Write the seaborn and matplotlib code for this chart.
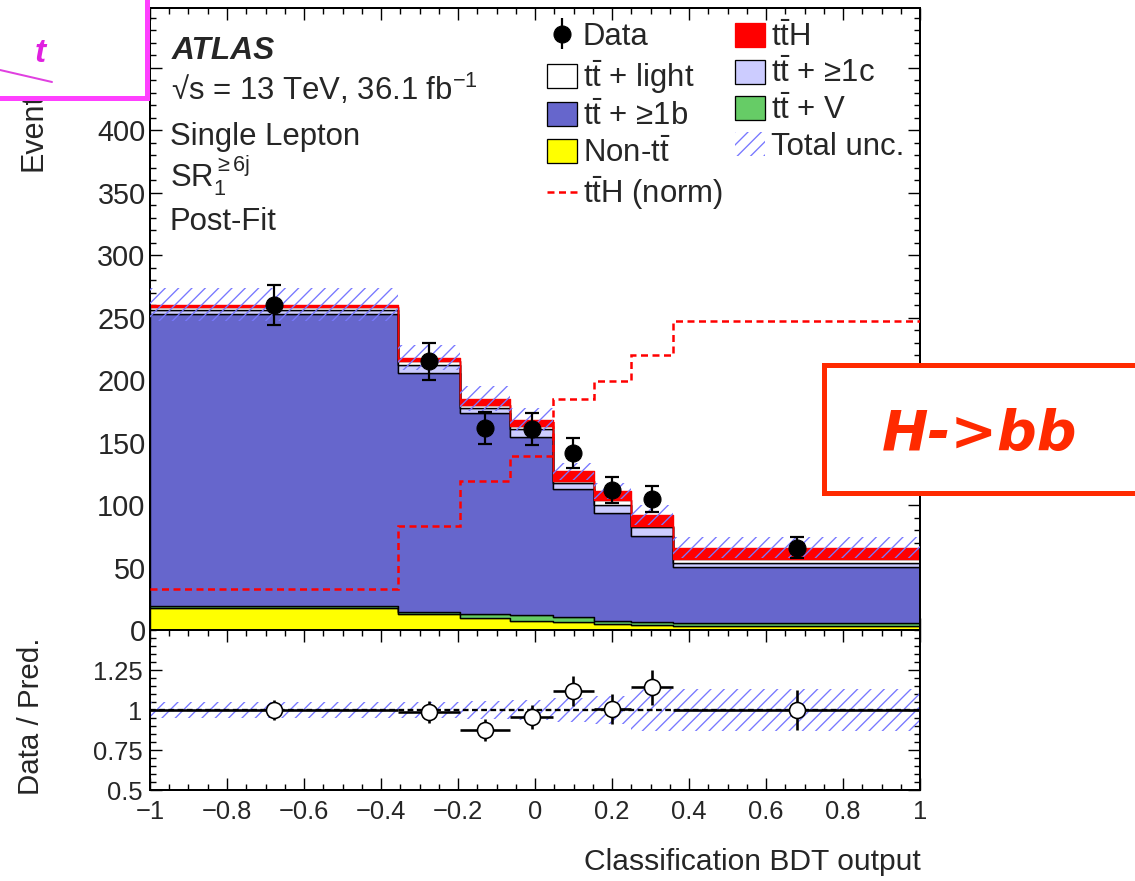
import numpy as np
import pandas as pd
import matplotlib
matplotlib.use("Agg")
import matplotlib.pyplot as plt
import seaborn as sns
from matplotlib.patches import Rectangle, Patch
from matplotlib.lines import Line2D
from matplotlib.ticker import MultipleLocator, FixedLocator, FixedFormatter

# ---------------- data ----------------
bin_edges = [-1.0, -0.357, -0.195, -0.064, 0.047, 0.152, 0.249, 0.359, 1.0]
non_tt   = [17.5, 12.5, 9.5, 7.5, 6.7, 4.5, 4.0, 3.2]
tt_v     = [1.8, 2.2, 3.0, 4.2, 3.4, 3.0, 2.7, 2.1]
tt_1b    = [233.7, 191.3, 161.5, 142.7, 102.6, 86.5, 68.6, 44.9]
tt_1c    = [3.5, 5.8, 3.6, 6.6, 5.3, 6.0, 7.0, 3.8]
tt_light = [2.0, 3.2, 2.4, 2.0, 1.0, 4.2, 1.0, 2.6]
tth      = [2.0, 3.0, 5.0, 5.3, 8.0, 7.2, 8.7, 9.4]
data_counts = [260, 215, 162, 161, 142, 112, 105, 66]
tth_norm = [33, 83, 119, 139, 185, 199.5, 220, 247]
total_unc_rel = [0.05, 0.046, 0.054, 0.054, 0.053, 0.055, 0.086, 0.13]
ratio_unc = [0.05, 0.05, 0.055, 0.065, 0.075, 0.09, 0.13, 0.13]

x_ticks = [-1, -0.8, -0.6, -0.4, -0.2, 0, 0.2, 0.4, 0.6, 0.8, 1]
x_tick_labels = ["\u22121", "\u22120.8", "\u22120.6", "\u22120.4", "\u22120.2", "0",
                 "0.2", "0.4", "0.6", "0.8", "1"]
y_ticks = [0, 50, 100, 150, 200, 250, 300, 350, 400, 450]
r_ticks = [0.5, 0.75, 1.0, 1.25]
r_tick_labels = ["0.5", "0.75", "1", "1.25"]

TT = r"$\mathrm{t\bar{t}}$"
proc_names = ["ttH", "tt+light", "tt+1c", "tt+1b", "tt+V", "Non-tt"]   # top -> bottom
proc_values = [tth, tt_light, tt_1c, tt_1b, tt_v, non_tt]
proc_colors = {"ttH": "#ff0000", "tt+light": "#ffffff", "tt+1c": "#ccccff",
               "tt+1b": "#6666cc", "tt+V": "#66cc66", "Non-tt": "#ffff00"}
HATCH_C = "#7878ff"

# ---------------- style ----------------
sns.set_style("ticks")
plt.rcParams['font.family'] = ['Liberation Sans', 'DejaVu Sans']
plt.rcParams['mathtext.fontset'] = 'custom'
plt.rcParams['mathtext.rm'] = 'Liberation Sans'
plt.rcParams['mathtext.it'] = 'Liberation Sans:italic'
plt.rcParams['mathtext.bf'] = 'Liberation Sans:bold'
plt.rcParams['hatch.color'] = HATCH_C
plt.rcParams['hatch.linewidth'] = 1.2
plt.rcParams['axes.unicode_minus'] = True

DPI = 80
W, H = 1135, 881
PX = 72.0 / DPI  # points per pixel

fig = plt.figure(figsize=(W / DPI, H / DPI), dpi=DPI)
fig.patch.set_facecolor("white")


def rect(l, t, r, b):
    return [l / W, 1 - b / H, (r - l) / W, (b - t) / H]


def fx(px):
    return px / W


def fy(py):
    return 1 - py / H


ax = fig.add_axes(rect(150, 8, 920, 630))
rax = fig.add_axes(rect(150, 630, 920, 790))

edges = np.array(bin_edges)
centers = 0.5 * (edges[:-1] + edges[1:])
halfw = 0.5 * (edges[1:] - edges[:-1])
nb = len(centers)

# ---------------- stacked histogram (seaborn) ----------------
df = pd.DataFrame({
    "x": np.tile(centers, len(proc_names)),
    "w": np.concatenate([np.asarray(v, float) for v in proc_values]),
    "proc": np.repeat(proc_names, nb),
})
sns.histplot(data=df, x="x", weights="w", hue="proc", hue_order=proc_names,
             multiple="stack", bins=list(bin_edges), element="step", fill=True,
             palette=proc_colors, edgecolor="black", linewidth=1.4 * PX,
             alpha=1, legend=False, ax=ax)
for coll in ax.collections:
    fc = coll.get_facecolor()
    if len(fc) and np.allclose(fc[0][:3], (1, 0, 0)):
        coll.set_edgecolor("#ff0000")

pred = np.sum([np.asarray(v, float) for v in proc_values], axis=0)
unc = pred * np.asarray(total_unc_rel)
ax.stairs(pred + unc, edges, baseline=pred - unc, fill=True, facecolor="none",
          edgecolor=HATCH_C, linewidth=0, hatch="//", zorder=4)

ax.stairs(tth_norm, edges, baseline=None, color="#ff0000",
          linestyle=(0, (2.8, 1.8)), linewidth=2.5 * PX, zorder=5)

data_arr = np.asarray(data_counts, float)
ax.errorbar(centers, data_arr, yerr=np.sqrt(data_arr), fmt="o", color="black",
            markersize=17 * PX, capsize=6.5 * PX, capthick=2.2 * PX,
            elinewidth=2.2 * PX, zorder=6)

ax.set_xlim(-1, 1)
ax.set_ylim(0, 498)
ax.set_xlabel("")
ax.set_ylabel("")

# ---------------- ratio panel ----------------
ratio = data_arr / pred
ratio_err = np.sqrt(data_arr) / pred
r_unc = np.asarray(ratio_unc)
rax.stairs(1 + r_unc, edges, baseline=1 - r_unc, fill=True, facecolor="none",
           edgecolor=HATCH_C, linewidth=0, hatch="//", zorder=2)
rax.axhline(1, color="black", linestyle=(0, (2.5, 1.5)), linewidth=2.3 * PX, zorder=3)
rax.errorbar(centers, ratio, xerr=halfw, yerr=ratio_err, fmt="o", mfc="white",
             mec="black", mew=1.6 * PX, markersize=16 * PX, ecolor="black",
             elinewidth=2.6 * PX, capsize=0, zorder=5)
rax.set_xlim(-1, 1)
rax.set_ylim(0.5, 1.5)

# ---------------- ticks / spines ----------------
for a in (ax, rax):
    a.tick_params(which="both", direction="in", top=True, right=True,
                  width=1.4 * PX, color="black")
    a.tick_params(which="major", length=12 * PX)
    a.tick_params(which="minor", length=6 * PX)
    for s in a.spines.values():
        s.set_linewidth(2.0 * PX)
        s.set_color("black")
    a.xaxis.set_major_locator(FixedLocator(x_ticks))
    a.xaxis.set_minor_locator(MultipleLocator(0.05))

ax.yaxis.set_major_locator(FixedLocator(y_ticks))
ax.yaxis.set_major_formatter(FixedFormatter([str(v) for v in y_ticks]))
ax.yaxis.set_minor_locator(MultipleLocator(10))
ax.tick_params(axis="x", labelbottom=False)
ax.tick_params(axis="y", labelsize=26, pad=4)

rax.xaxis.set_major_formatter(FixedFormatter(x_tick_labels))
rax.yaxis.set_major_locator(FixedLocator(r_ticks))
rax.yaxis.set_major_formatter(FixedFormatter(r_tick_labels))
rax.yaxis.set_minor_locator(MultipleLocator(0.05))
rax.tick_params(axis="x", labelsize=23, pad=9)
rax.tick_params(axis="y", labelsize=23, pad=7)

# ---------------- texts ----------------
fig.text(fx(172), fy(59), "ATLAS", fontsize=28.5, fontweight="bold", fontstyle="italic",
         va="baseline", ha="left")
fig.text(fx(171), fy(100), "\u221As = 13 TeV, 36.1 fb$^{\\mathrm{-1}}$", fontsize=28,
         va="baseline", ha="left")
fig.text(fx(170), fy(145), "Single Lepton", fontsize=28, va="baseline", ha="left")
fig.text(fx(170), fy(188), r"SR$_{\mathrm{1}}^{\mathrm{\geq6j}}$", fontsize=28,
         va="baseline", ha="left")
fig.text(fx(170), fy(230), "Post-Fit", fontsize=28, va="baseline", ha="left")

fig.text(fx(34), fy(171), "Events", fontsize=27.5, rotation=90, ha="center", va="bottom")
fig.text(fx(31), fy(716), "Data / Pred.", fontsize=26.5, rotation=90, ha="center",
         va="center")
fig.text(fx(921), fy(870), "Classification BDT output", fontsize=27, ha="right",
         va="baseline")

# ---------------- legend ----------------
def box(c):
    return Patch(facecolor=c, edgecolor="black", linewidth=1.3 * PX)

# legend handle for data: marker with short vertical bar, no caps
data_leg = ax.errorbar([np.nan], [np.nan], yerr=[1.0], fmt="o", color="black",
                       markersize=17 * PX, capsize=0, elinewidth=2.2 * PX)

h1 = [data_leg, box("#ffffff"), box("#6666cc"), box("#ffff00"),
      Line2D([], [], color="#ff0000", linestyle=(0, (2.8, 1.8)), linewidth=2.5 * PX)]
l1 = ["Data", TT + " + light", TT + " + \u22651b", "Non-" + TT,
      r"$\mathrm{t\bar{t}H}$ (norm)"]
h2 = [Patch(facecolor="#ff0000", edgecolor="#ff0000", linewidth=1.3 * PX),
      box("#ccccff"), box("#66cc66"),
      Patch(facecolor="none", edgecolor=HATCH_C, linewidth=0, hatch="//")]
l2 = [r"$\mathrm{t\bar{t}H}$", TT + " + \u22651c", TT + " + V", "Total unc."]

common = dict(loc="upper left", frameon=False, fontsize=28, borderpad=0,
              borderaxespad=0, handlelength=0.95, handleheight=0.8,
              handletextpad=0.2, labelspacing=0.18)
leg1 = fig.legend(h1, l1, bbox_to_anchor=(fx(547), fy(22)), **common)
leg2 = fig.legend(h2, l2, bbox_to_anchor=(fx(735), fy(22)), **common)

# ---------------- slide overlays ----------------
fig.add_artist(Rectangle((fx(-10), fy(98)), fx(156.5), (98 + 10) / H,
                         transform=fig.transFigure, facecolor="white",
                         edgecolor="#ff40ff", linewidth=5 * PX, zorder=20))
fig.add_artist(Line2D([fx(0), fx(52)], [fy(70), fy(82)], transform=fig.transFigure,
                      color="#e040e0", linewidth=2 * PX, zorder=21))
fig.text(fx(40), fy(62), "t", fontsize=30, color="#e020e0", fontweight="bold",
         fontstyle="italic", ha="center", va="baseline", zorder=22)

fig.add_artist(Rectangle((fx(823.5), fy(492.5)), fx(330), (492.5 - 364.5) / H,
                         transform=fig.transFigure, facecolor="white",
                         edgecolor="#ff2a00", linewidth=5 * PX, zorder=20))
fig.text(fx(980), fy(450), "H->bb", fontsize=50, color="#ff2a00", fontweight="bold",
         fontstyle="italic", family="DejaVu Sans", ha="center", va="baseline", zorder=22)

fig.savefig("out.png", dpi=DPI, facecolor="white")
